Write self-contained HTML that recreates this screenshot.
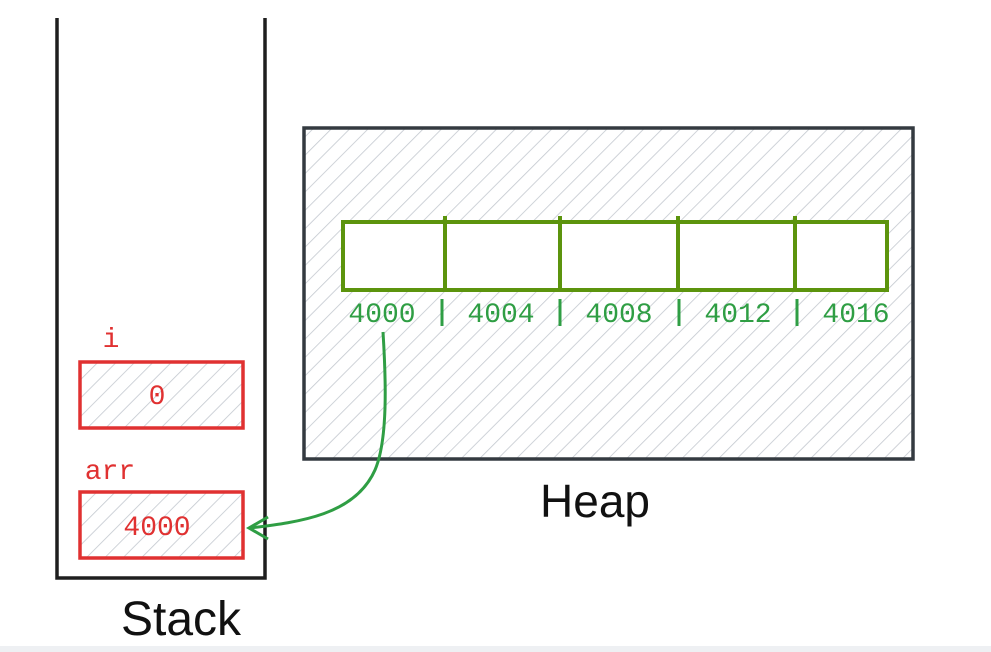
<!DOCTYPE html>
<html><head><meta charset="utf-8"><style>
html,body{margin:0;padding:0;background:#fff;width:991px;height:652px;overflow:hidden}
svg{display:block}
.mono{font-family:"Liberation Mono",monospace}
.hand{font-family:"Liberation Sans",sans-serif}
</style></head><body>
<svg width="991" height="652" viewBox="0 0 991 652">
<defs>
<pattern id="hatch" patternUnits="userSpaceOnUse" width="13" height="13" patternTransform="rotate(45)">
<line x1="0" y1="0" x2="0" y2="13" stroke="#c3c8cf" stroke-width="1.6"/>
</pattern>
</defs>
<rect x="0" y="646" width="991" height="6" fill="#eef0f3"/>
<path d="M57 18 L57 578 L265 578 L265 18" fill="none" stroke="#1e1e1e" stroke-width="3.5"/>
<text x="181" y="635" text-anchor="middle" class="hand" font-size="48" fill="#111">Stack</text>
<text x="111" y="347" text-anchor="middle" class="mono" font-size="28" fill="#e03131">i</text>
<g>
<rect x="80" y="362" width="163" height="66" fill="url(#hatch)" stroke="#e03131" stroke-width="3.5"/>
<text x="157" y="404" text-anchor="middle" class="mono" font-size="28" fill="#e03131">0</text>
</g>
<text x="110" y="479" text-anchor="middle" class="mono" font-size="28" fill="#e03131">arr</text>
<g>
<rect x="80" y="492" width="163" height="66" fill="url(#hatch)" stroke="#e03131" stroke-width="3.5"/>
<text x="157" y="535" text-anchor="middle" class="mono" font-size="28" fill="#e03131">4000</text>
</g>
<rect x="304" y="128" width="609" height="331" fill="url(#hatch)" stroke="#343a40" stroke-width="3.5"/>
<text x="595" y="517" text-anchor="middle" class="hand" font-size="46" fill="#111">Heap</text>
<g>
<rect x="343" y="222" width="544" height="68" fill="#fff" stroke="#5c940d" stroke-width="4"/>
<line x1="445" y1="216" x2="445" y2="292" stroke="#5c940d" stroke-width="4"/>
<line x1="560" y1="216" x2="560" y2="292" stroke="#5c940d" stroke-width="4"/>
<line x1="678" y1="216" x2="678" y2="292" stroke="#5c940d" stroke-width="4"/>
<line x1="795" y1="216" x2="795" y2="292" stroke="#5c940d" stroke-width="4"/>
</g>
<g class="mono" font-size="28" fill="#2f9e44" text-anchor="middle">
<text x="382" y="322">4000</text>
<text x="501" y="322">4004</text>
<text x="619" y="322">4008</text>
<text x="738" y="322">4012</text>
<text x="856" y="322">4016</text>
</g>
<g stroke="#2f9e44" stroke-width="3">
<line x1="442" y1="299" x2="442" y2="326"/>
<line x1="560" y1="299" x2="560" y2="326"/>
<line x1="679" y1="299" x2="679" y2="326"/>
<line x1="797" y1="299" x2="797" y2="326"/>
</g>
<path d="M383 332 C386 380 388 440 375 470 C355 515 300 522 250 528" fill="none" stroke="#2f9e44" stroke-width="3"/>
<path d="M268 517 L249 528 L268 539" fill="none" stroke="#2f9e44" stroke-width="3"/>
</svg>
</body></html>
